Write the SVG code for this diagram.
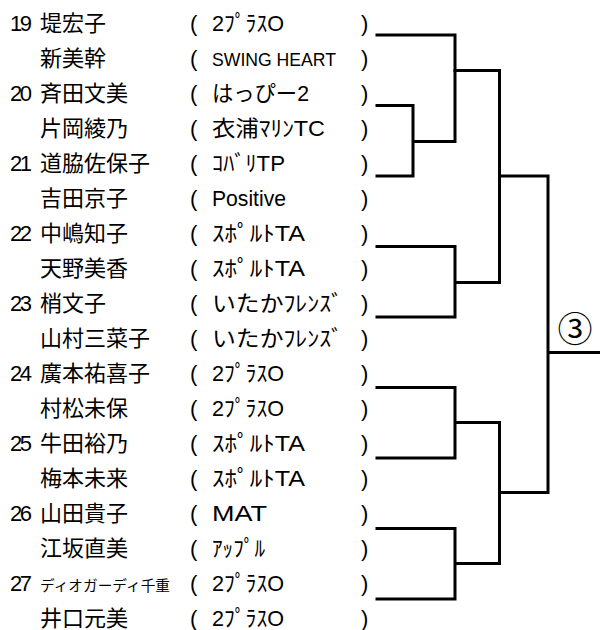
<svg xmlns="http://www.w3.org/2000/svg" width="600" height="630" viewBox="0 0 600 630">
<style>
text{font-family:"Liberation Sans","Noto Sans CJK JP",sans-serif;font-size:22px;fill:#000}
.nm{font-family:"Noto Sans CJK JP",sans-serif}
.sm{font-family:"Noto Sans CJK JP",sans-serif;font-size:14.4px}
.ln{fill:none;stroke:#000;stroke-width:3;stroke-linecap:square}
</style>
<rect width="600" height="630" fill="#fff"/>
<g id="p19a"><text x="10" y="30.5" textLength="22">19</text><text class="nm" x="40" y="30.5">堤宏子</text><text x="190" y="30.5">(</text><text x="212" y="30.5" textLength="72" lengthAdjust="spacingAndGlyphs">2ﾌﾟﾗｽO</text><text x="361" y="30.5">)</text></g>
<g id="p19b"><text class="nm" x="40" y="65.5">新美幹</text><text x="190" y="65.5">(</text><text x="212" y="65.5" style="font-size:19px" textLength="124" lengthAdjust="spacingAndGlyphs">SWING HEART</text><text x="361" y="65.5">)</text></g>
<g id="p20a"><text x="10" y="100.5" textLength="22">20</text><text class="nm" x="40" y="100.5">斉田文美</text><text x="190" y="100.5">(</text><text x="212" y="100.5" textLength="97" lengthAdjust="spacingAndGlyphs">はっぴー2</text><text x="361" y="100.5">)</text></g>
<g id="p20b"><text class="nm" x="40" y="135.5">片岡綾乃</text><text x="190" y="135.5">(</text><text x="212" y="135.5" textLength="113" lengthAdjust="spacingAndGlyphs">衣浦ﾏﾘﾝTC</text><text x="361" y="135.5">)</text></g>
<g id="p21a"><text x="10" y="170.5" textLength="22">21</text><text class="nm" x="40" y="170.5">道脇佐保子</text><text x="190" y="170.5">(</text><text x="212" y="170.5" textLength="73" lengthAdjust="spacingAndGlyphs">ｺﾊﾞﾘTP</text><text x="361" y="170.5">)</text></g>
<g id="p21b"><text class="nm" x="40" y="205.5">吉田京子</text><text x="190" y="205.5">(</text><text x="212" y="205.5" textLength="74" lengthAdjust="spacingAndGlyphs">Positive</text><text x="361" y="205.5">)</text></g>
<g id="p22a"><text x="10" y="240.5" textLength="22">22</text><text class="nm" x="40" y="240.5">中嶋知子</text><text x="190" y="240.5">(</text><text x="212" y="240.5" textLength="93" lengthAdjust="spacingAndGlyphs">ｽﾎﾟﾙﾄTA</text><text x="361" y="240.5">)</text></g>
<g id="p22b"><text class="nm" x="40" y="275.5">天野美香</text><text x="190" y="275.5">(</text><text x="212" y="275.5" textLength="93" lengthAdjust="spacingAndGlyphs">ｽﾎﾟﾙﾄTA</text><text x="361" y="275.5">)</text></g>
<g id="p23a"><text x="10" y="310.5" textLength="22">23</text><text class="nm" x="40" y="310.5">梢文子</text><text x="190" y="310.5">(</text><text x="212" y="310.5" textLength="131" lengthAdjust="spacingAndGlyphs">いたかﾌﾚﾝｽﾞ</text><text x="361" y="310.5">)</text></g>
<g id="p23b"><text class="nm" x="40" y="345.5">山村三菜子</text><text x="190" y="345.5">(</text><text x="212" y="345.5" textLength="131" lengthAdjust="spacingAndGlyphs">いたかﾌﾚﾝｽﾞ</text><text x="361" y="345.5">)</text></g>
<g id="p24a"><text x="10" y="380.5" textLength="22">24</text><text class="nm" x="40" y="380.5">廣本祐喜子</text><text x="190" y="380.5">(</text><text x="212" y="380.5" textLength="72" lengthAdjust="spacingAndGlyphs">2ﾌﾟﾗｽO</text><text x="361" y="380.5">)</text></g>
<g id="p24b"><text class="nm" x="40" y="415.5">村松未保</text><text x="190" y="415.5">(</text><text x="212" y="415.5" textLength="72" lengthAdjust="spacingAndGlyphs">2ﾌﾟﾗｽO</text><text x="361" y="415.5">)</text></g>
<g id="p25a"><text x="10" y="450.5" textLength="22">25</text><text class="nm" x="40" y="450.5">牛田裕乃</text><text x="190" y="450.5">(</text><text x="212" y="450.5" textLength="93" lengthAdjust="spacingAndGlyphs">ｽﾎﾟﾙﾄTA</text><text x="361" y="450.5">)</text></g>
<g id="p25b"><text class="nm" x="40" y="485.5">梅本未来</text><text x="190" y="485.5">(</text><text x="212" y="485.5" textLength="93" lengthAdjust="spacingAndGlyphs">ｽﾎﾟﾙﾄTA</text><text x="361" y="485.5">)</text></g>
<g id="p26a"><text x="10" y="520.5" textLength="22">26</text><text class="nm" x="40" y="520.5">山田貴子</text><text x="190" y="520.5">(</text><text x="212" y="520.5" textLength="55" lengthAdjust="spacingAndGlyphs">MAT</text><text x="361" y="520.5">)</text></g>
<g id="p26b"><text class="nm" x="40" y="555.5">江坂直美</text><text x="190" y="555.5">(</text><text x="212" y="555.5" textLength="53" lengthAdjust="spacingAndGlyphs">ｱｯﾌﾟﾙ</text><text x="361" y="555.5">)</text></g>
<g id="p27a"><text x="10" y="590.5" textLength="22">27</text><text class="sm" x="40" y="590.5" textLength="130" lengthAdjust="spacingAndGlyphs">ディオガーディ千重</text><text x="190" y="590.5">(</text><text x="212" y="590.5" textLength="72" lengthAdjust="spacingAndGlyphs">2ﾌﾟﾗｽO</text><text x="361" y="590.5">)</text></g>
<g id="p27b"><text class="nm" x="40" y="625.5">井口元美</text><text x="190" y="625.5">(</text><text x="212" y="625.5" textLength="72" lengthAdjust="spacingAndGlyphs">2ﾌﾟﾗｽO</text><text x="361" y="625.5">)</text></g>
<g id="result"><text class="nm" x="575" y="342" text-anchor="middle" style="font-size:35px">③</text></g>
<g id="connectors">
<path class="ln" d="M377 35H455V141.5M377 105.5H413V176H377M413 141.5H455"/>
<path class="ln" d="M455 70.5H499.5V282.5M377 246.5H455V317H377M455 282.5H499.5"/>
<path class="ln" d="M377 387.5H455V458H377M455 422.5H499.5V563.5M377 528.5H455V599H377M455 563.5H499.5"/>
<path class="ln" d="M499.5 176H548V492.5M499.5 492.5H548M548 352.5H600"/>
</g>
</svg>
